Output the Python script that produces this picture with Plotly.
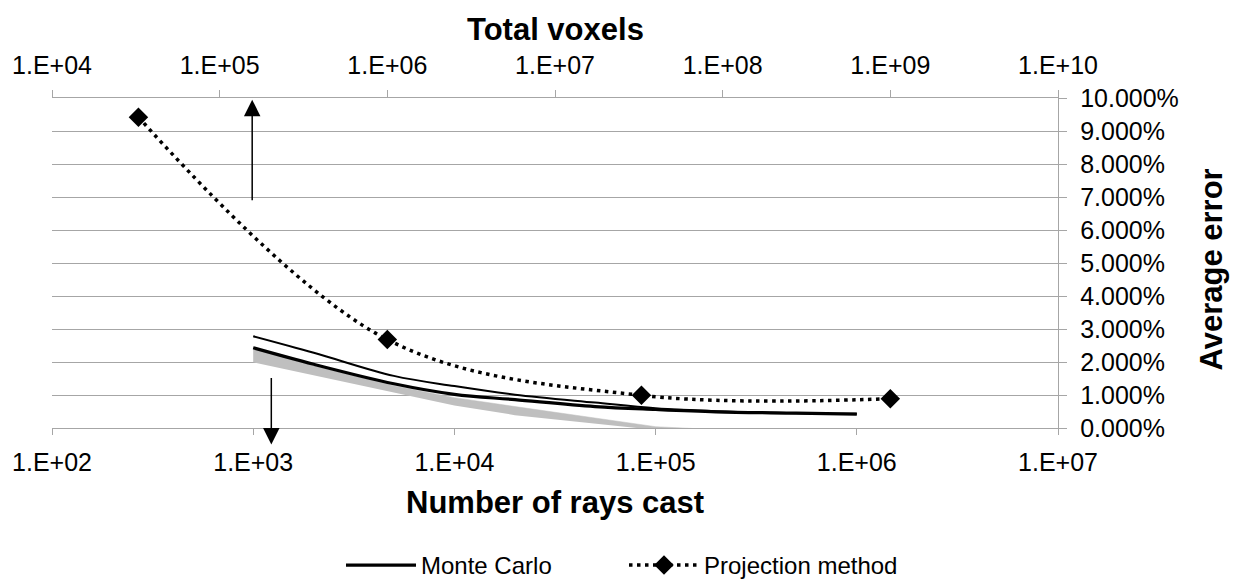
import plotly.graph_objects as go

# ---- data (error values in percent) ----
rays = [1e3, 2e3, 5e3, 1e4, 2e4, 5e4, 1e5, 2e5, 5e5, 1e6]
mc_mean = [2.43, 1.93, 1.34, 1.02, 0.86, 0.65, 0.56, 0.49, 0.45, 0.42]
mc_upper = [2.78, 2.28, 1.58, 1.27, 1.01, 0.77, 0.60, 0.51, 0.45, 0.43]
mc_band_top = [2.40, 1.89, 1.28, 0.92, 0.65, 0.31, 0.04, -0.05, -0.11, -0.16]
mc_band_bottom = [1.99, 1.59, 1.07, 0.68, 0.39, 0.14, -0.06, -0.09, -0.14, -0.17]

voxels = [32768, 1e6, 32768000, 1e9]
proj_error = [9.42, 2.68, 0.99, 0.89]

bottom_ticks = [1e2, 1e3, 1e4, 1e5, 1e6, 1e7]
bottom_labels = ["1.E+02", "1.E+03", "1.E+04", "1.E+05", "1.E+06", "1.E+07"]
top_ticks = [1e4, 1e5, 1e6, 1e7, 1e8, 1e9, 1e10]
top_labels = ["1.E+04", "1.E+05", "1.E+06", "1.E+07", "1.E+08", "1.E+09", "1.E+10"]
y_ticks = list(range(0, 11))
y_labels = ["%d.000%%" % v for v in y_ticks]

FONT = "Liberation Sans, Arial, sans-serif"
GRID = "#a6a6a6"

fig = go.Figure()

# gray band (lower edge then upper edge filled)
fig.add_trace(go.Scatter(x=rays, y=mc_band_bottom, mode="lines",
                         line=dict(width=0, color="#bfbfbf"),
                         showlegend=False, hoverinfo="skip"))
fig.add_trace(go.Scatter(x=rays, y=mc_band_top, mode="lines",
                         line=dict(width=0.5, color="#bfbfbf"),
                         fill="tonexty", fillcolor="#bfbfbf",
                         showlegend=False, hoverinfo="skip"))
# upper thin line
fig.add_trace(go.Scatter(x=rays, y=mc_upper, mode="lines",
                         line=dict(width=2, color="black", shape="spline"),
                         showlegend=False))
# main Monte Carlo line
fig.add_trace(go.Scatter(x=rays, y=mc_mean, mode="lines", name="Monte Carlo",
                         line=dict(width=3.2, color="black", shape="spline")))
# projection method on top axis
fig.add_trace(go.Scatter(x=voxels, y=proj_error, mode="lines+markers",
                         name="Projection method", xaxis="x2",
                         line=dict(width=3.5, color="black", dash="3.5px,4.5px",
                                   shape="spline", smoothing=1),
                         marker=dict(symbol="diamond", size=15, color="black")))

fig.update_layout(
    width=1232, height=579,
    margin=dict(l=44, r=182, t=90, b=159, autoexpand=False),
    paper_bgcolor="white", plot_bgcolor="white",
    font=dict(family=FONT, size=25, color="black"),
    showlegend=True,
    legend=dict(orientation="h", xref="container", yref="container",
                x=0.5, xanchor="center", y=0.076, yanchor="top",
                traceorder="normal", entrywidth=198,
                font=dict(size=24), itemwidth=70, tracegroupgap=0,
                bgcolor="rgba(0,0,0,0)"),
    xaxis=dict(type="log", range=[2, 7], tickvals=bottom_ticks,
               ticktext=bottom_labels, ticks="outside", ticklen=6,
               tickcolor=GRID, showline=True, linecolor=GRID, linewidth=1.3,
               showgrid=False, zeroline=False, ticklabelstandoff=6,
               automargin=False, tickfont=dict(size=25)),
    xaxis2=dict(type="log", range=[4, 10], overlaying="x", side="top",
                anchor="y", tickvals=top_ticks, ticktext=top_labels,
                ticks="outside", ticklen=7, tickcolor=GRID, showline=True,
                linecolor=GRID, linewidth=1.3, showgrid=False, zeroline=False,
                ticklabelstandoff=6, automargin=False, tickfont=dict(size=25)),
    yaxis=dict(side="right", range=[0, 10], tickvals=y_ticks,
               ticktext=y_labels, ticks="outside", ticklen=8, tickcolor=GRID,
               showline=True, linecolor=GRID, linewidth=1.3,
               showgrid=True, gridcolor=GRID, gridwidth=1.3, zeroline=False,
               ticklabelstandoff=8, automargin=False, tickfont=dict(size=25)),
)

annotations = [
    dict(text="<b>Total voxels</b>", xref="paper", yref="paper", x=0.5, y=1.207,
         showarrow=False, font=dict(size=31), xanchor="center", yanchor="middle"),
    dict(text="<b>Number of rays cast</b>", xref="paper", yref="paper", x=0.5,
         y=-0.226, showarrow=False, font=dict(size=31), xanchor="center",
         yanchor="middle"),
    dict(text="<b>Average error</b>", xref="paper", yref="paper", x=1.153,
         y=0.48, showarrow=False, font=dict(size=31), textangle=-90,
         xanchor="center", yanchor="middle"),
    # arrow pointing up to top axis
    dict(text="", xref="x", yref="paper", x=2.995, y=0.995, showarrow=True,
         ax=0, ay=102, arrowhead=2, arrowsize=2.2, arrowwidth=1.5,
         arrowcolor="black"),
    # arrow pointing down to bottom axis
    dict(text="", xref="x", yref="paper", x=3.09, y=-0.05, showarrow=True,
         ax=0, ay=-68, arrowhead=2, arrowsize=2.2, arrowwidth=1.5,
         arrowcolor="black"),
]
fig.update_layout(annotations=annotations)

fig.write_html("out.html")
